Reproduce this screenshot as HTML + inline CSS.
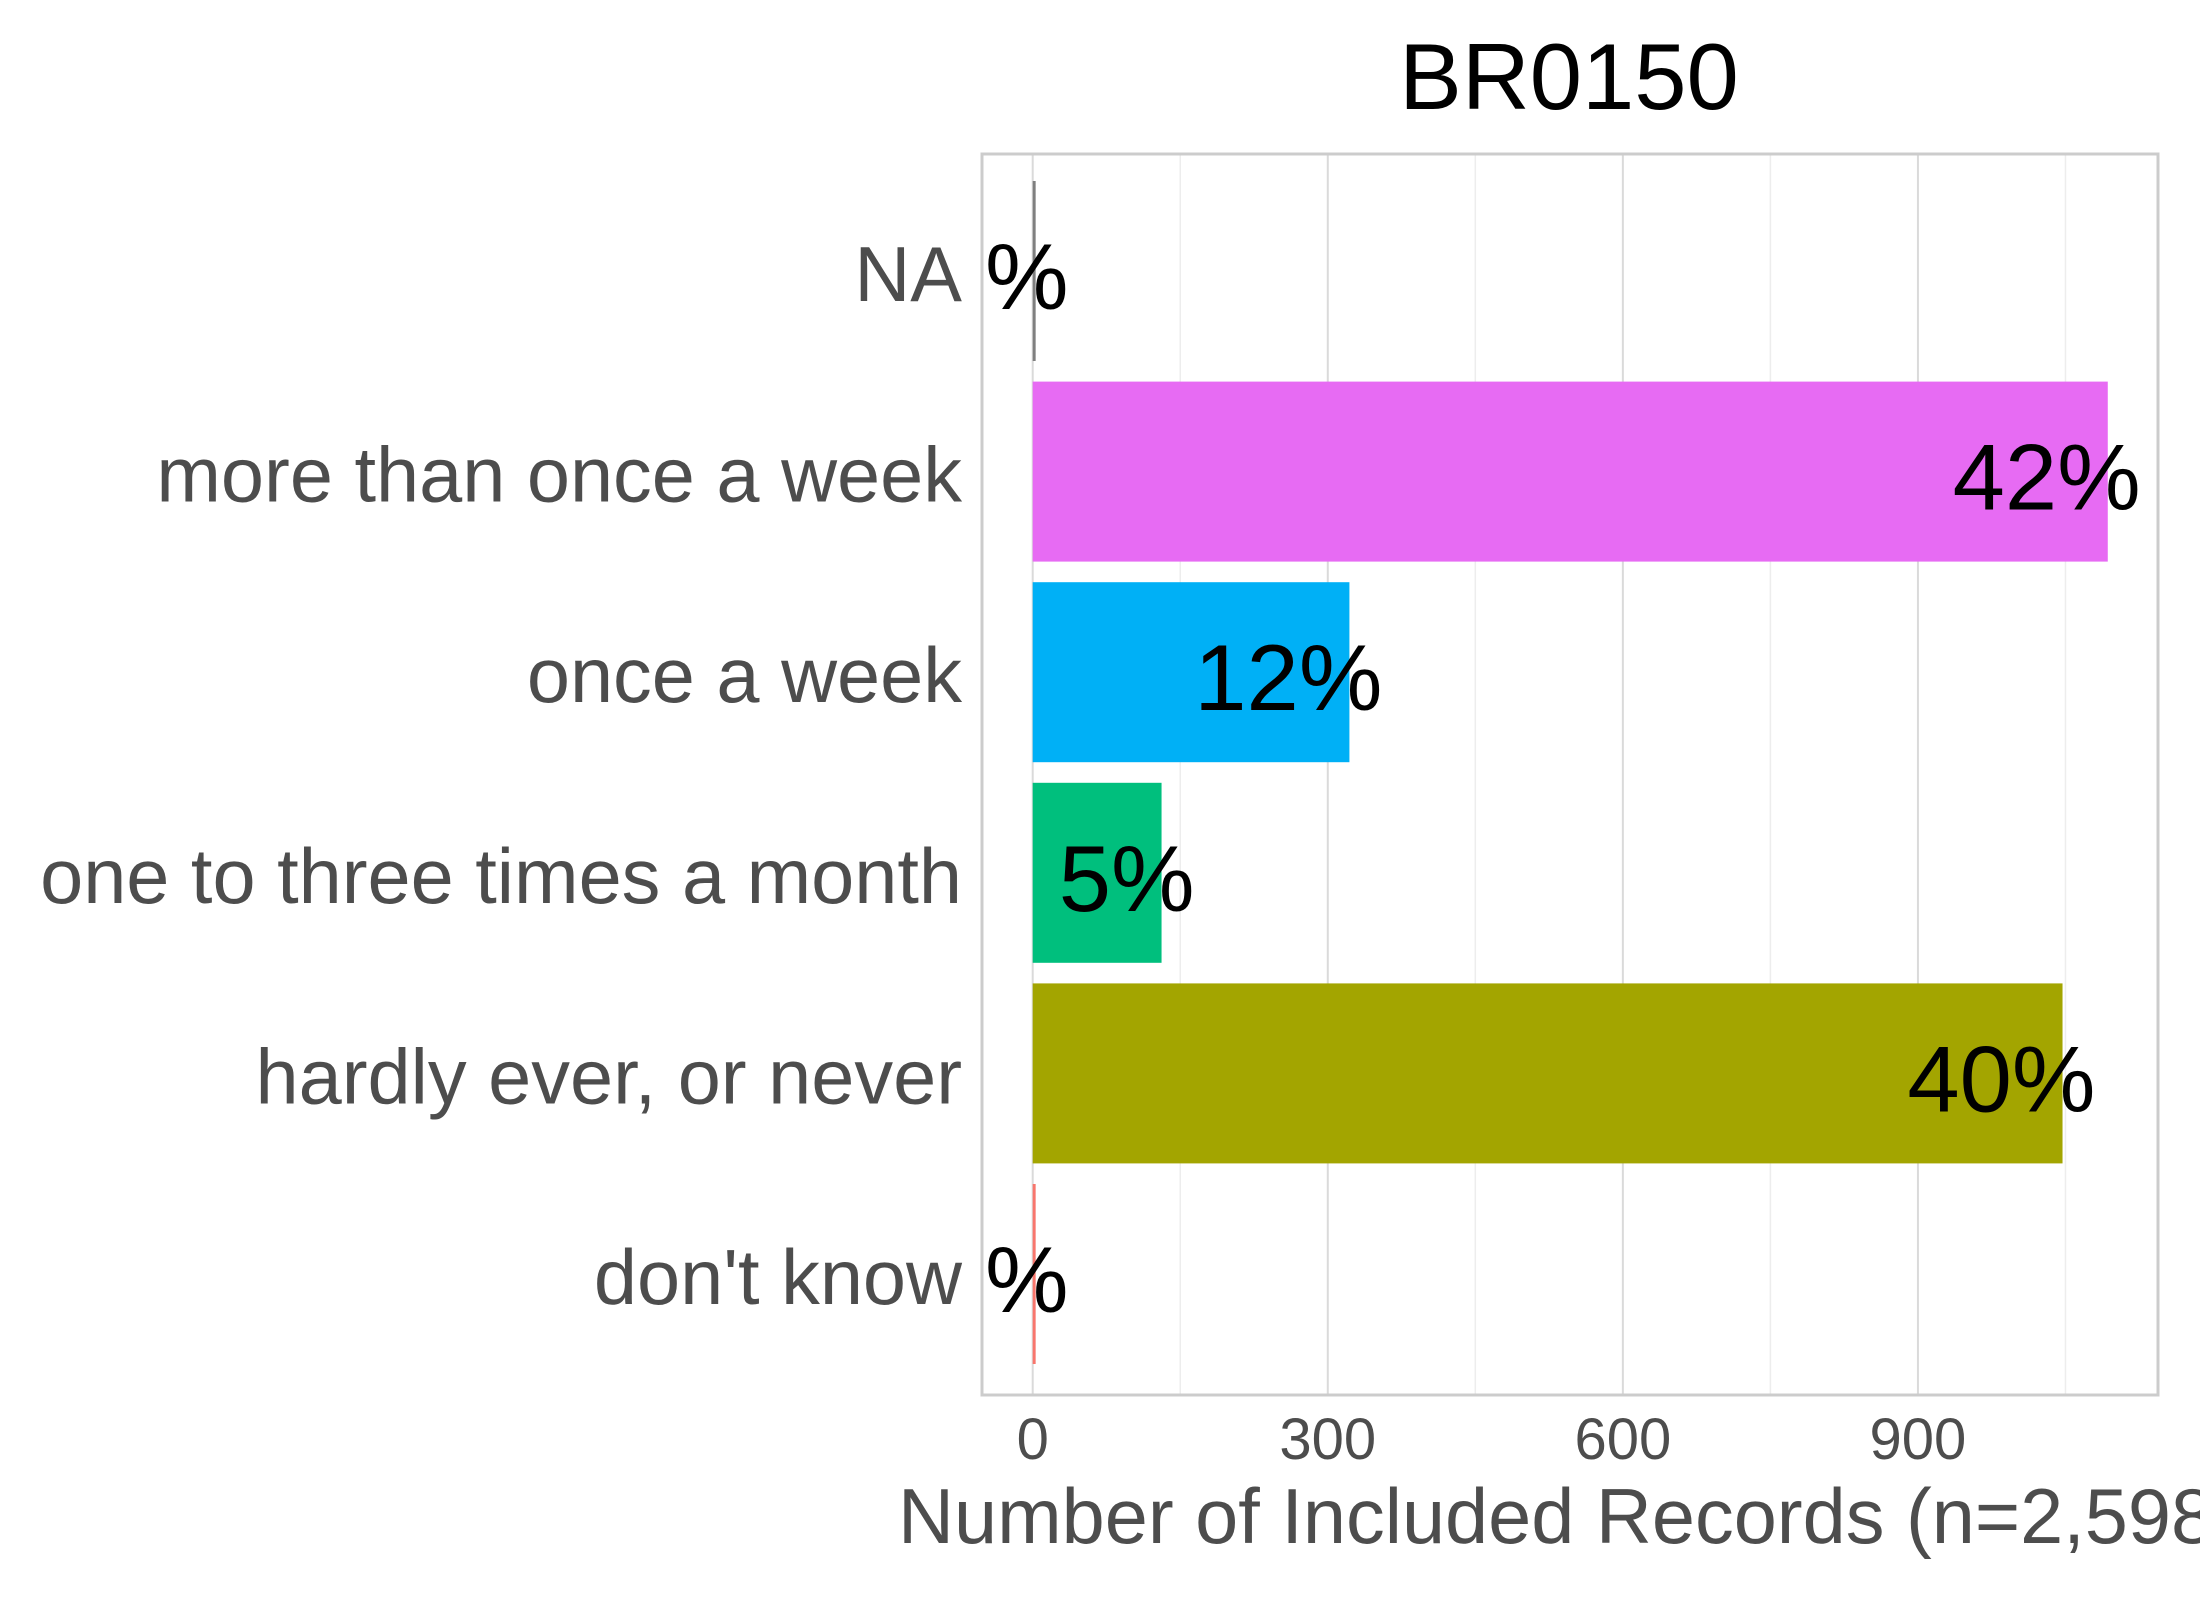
<!DOCTYPE html>
<html><head><meta charset="utf-8"><style>body{margin:0;background:#fff}svg{display:block;font-family:"Liberation Sans",Arial,sans-serif}</style></head>
<body>
<svg id="chart" width="2200" height="1600" xmlns="http://www.w3.org/2000/svg">
<rect width="2200" height="1600" fill="#fff"/>
<text x="1569" y="109" font-size="94" text-anchor="middle" fill="#000">BR0150</text>
<g id="grid"></g>
<g id="bars"></g>
<g id="labels"></g>
<rect x="982" y="154" width="1176" height="1241" fill="none" stroke="#cccccc" stroke-width="3"/>
<text x="898" y="1543" font-size="77.5" fill="#4d4d4d">Number of Included Records (n=2,598)</text>
</svg>
<script>
const categories = ["don't know","hardly ever, or never","one to three times a month","once a week","more than once a week","NA"];
const counts = [3, 1047, 131, 322, 1093, 3];
const pctLabels = ["%","40%","5%","12%","42%","%"];
const colors = ["#F8766D","#A3A500","#00BF7D","#00B0F6","#E76BF3","#7F7F7F"];
const majorTicks = [0,300,600,900];
const minorTicks = [150,450,750,1050];
const NS="http://www.w3.org/2000/svg";
const x0=1032.7, k=0.9836;
function xs(v){return x0+v*k;}
function yc(i){return 1274-i*200.6;}
const grid=document.getElementById('grid'), bars=document.getElementById('bars'), labels=document.getElementById('labels'), svg=document.getElementById('chart');
function mk(t,a,p){const e=document.createElementNS(NS,t);for(const q in a)e.setAttribute(q,a[q]);p.appendChild(e);return e;}
minorTicks.forEach(v=>{const l=mk('line',{x1:xs(v),x2:xs(v),y1:154,y2:1395,stroke:'#ededed','stroke-width':1.5},grid);

});
majorTicks.forEach(v=>{const l=mk('line',{x1:xs(v),x2:xs(v),y1:154,y2:1395,stroke:'#dadada','stroke-width':2},grid);


const t=mk('text',{x:xs(v),y:1459,'font-size':58,'text-anchor':'middle',fill:'#4d4d4d'},svg);t.textContent=v;

});
categories.forEach((c,i)=>{const y=yc(i);
const r=mk('rect',{x:x0,y:y-90,width:Math.max(counts[i]*k,2),height:180,fill:colors[i]},bars);


const t=mk('text',{x:962,y:y+30,'font-size':77.5,'text-anchor':'end',fill:'#4d4d4d'},labels);t.textContent=c;


const p=mk('text',{x:xs(counts[i])+33,y:y+38,'font-size':94,'text-anchor':'end',fill:'#000'},labels);p.textContent=pctLabels[i];

});
</script>
</body></html>
